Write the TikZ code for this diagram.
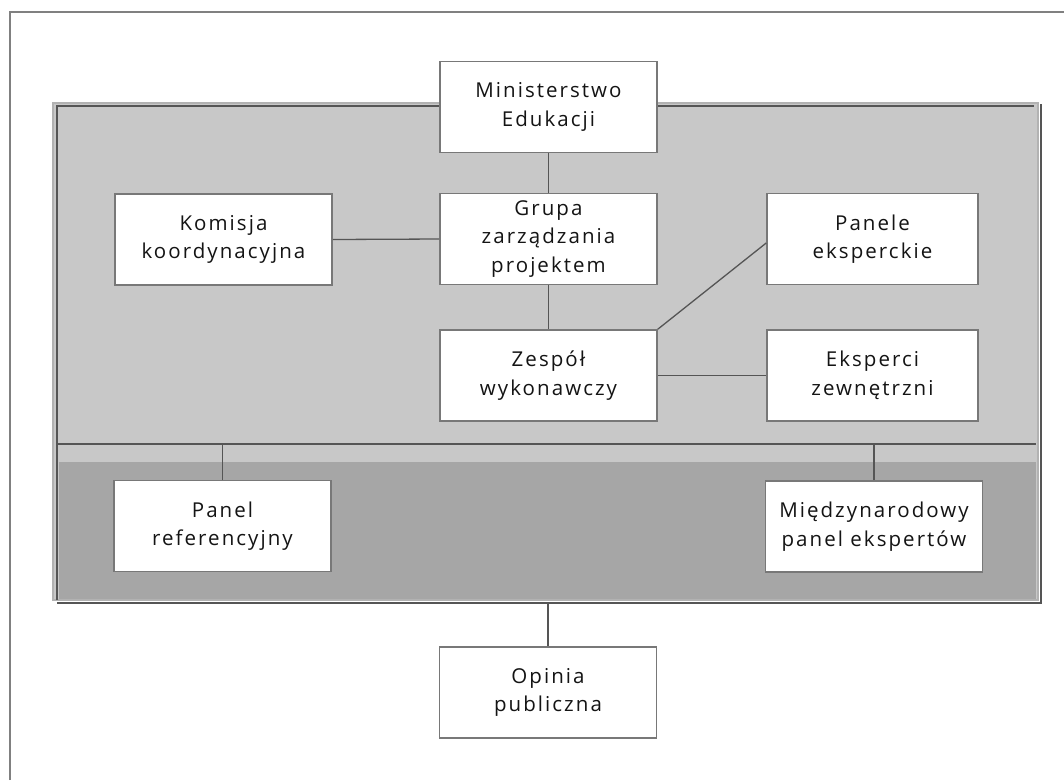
\documentclass[tikz,border=0pt]{standalone}
\usepackage{fontspec}
\setmainfont{Open Sans}[LetterSpace=10]
\definecolor{panelfill}{RGB}{200,200,200}
\definecolor{paneldark}{RGB}{166,166,166}
\definecolor{panelrim}{RGB}{178,178,178}
\definecolor{lineclr}{RGB}{85,85,85}
\definecolor{boxrim}{RGB}{120,120,120}
\definecolor{txt}{RGB}{20,20,20}
\tikzset{
  orgbox/.style={rectangle, fill=white, draw=boxrim, line width=1.6pt,
    minimum width=217pt, minimum height=91pt, align=center, text=txt,
    font=\fontsize{20.5}{28.5}\selectfont, inner sep=0pt},
  link/.style={draw=lineclr, line width=1.3pt},
  rimlight/.style={draw=panelrim, line width=2.2pt},
  rimdark/.style={draw=lineclr, line width=2pt},
}
\begin{document}
\begin{tikzpicture}[x=1pt,y=-1pt]
\useasboundingbox (0,0) rectangle (1064,780);
\fill[white] (0,0) rectangle (1064,780);

% page frame (left and top edges)
\draw[draw={rgb,255:red,128;green,128;blue,128}, line width=1.5pt] (10,780) -- (10,12) -- (1064,12);

% organisation panel with bevelled rim
\fill[panelfill] (53,103) rectangle (1038,600);
\fill[paneldark] (59,462) rectangle (1036,599);
\draw[rimlight] (53,103) rectangle (1038,600);
\draw[rimdark] (57,600) -- (57,106) -- (1034,106);
\draw[rimdark] (1041,104) -- (1041,603) -- (57,603);
\coordinate (divL) at (57,444);
\coordinate (divR) at (1036,444);
\coordinate (panelBottom) at (548,603);
\draw[rimdark] (divL) -- (divR);

% boxes
\node[orgbox] (min) at (548.5,107) {Ministerstwo\\Edukacji};
\node[orgbox] (grupa) at (548.5,239) {Grupa\\zarządzania\\projektem};
\node[orgbox] (zespol) at (548.5,375.5) {Zespół\\wykonawczy};
\node[orgbox] (komisja) at (223.5,239.5) {Komisja\\koordynacyjna};
\node[orgbox, minimum width=211pt] (panele) at (872.5,239) {Panele\\eksperckie};
\node[orgbox, minimum width=211pt] (eksperci) at (872.5,375.5) {Eksperci\\zewnętrzni};
\node[orgbox] (panelref) at (222.5,526) {Panel\\referencyjny};
\node[orgbox] (miedzy) at (874,526.5) {Międzynarodowy\\panel ekspertów};
\node[orgbox] (opinia) at (548,692.5) {Opinia\\publiczna};

% connectors
\draw[link] (min.south) -- (grupa.north);
\draw[link] (komisja.east) -- (grupa.west);
\draw[link] (grupa.south) -- (zespol.north);
\draw[link] (zespol.east) -- (eksperci.west);
\draw[link] (zespol.north east) -- ([yshift=-4pt]panele.west);
\draw[link] (panelref.north) -- (panelref.north |- divL);
\draw[link] (miedzy.north) -- (miedzy.north |- divL);
\draw[link, line width=2pt] (opinia.north) -- (opinia.north |- panelBottom);
\end{tikzpicture}
\end{document}
